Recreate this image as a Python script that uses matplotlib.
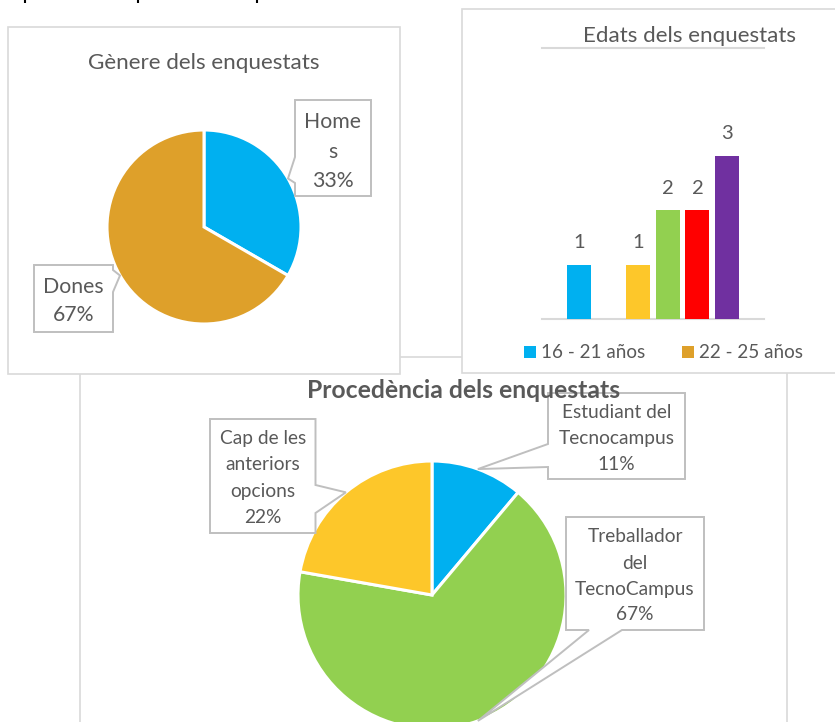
import matplotlib
matplotlib.use("Agg")
import matplotlib.pyplot as plt
from matplotlib.patches import Rectangle, Polygon
import numpy as np

plt.rcParams['font.family'] = ['Lato', 'DejaVu Sans']

# ---------------- data ----------------
gender_labels = ['Homes', 'Dones']
gender_label_lines = [['Home', 's'], ['Dones']]
gender_values = [3, 6]
gender_colors = ['#00B0F0', '#DEA02A']

age_legend = ['16 - 21 años', '22 - 25 años']
age_values = [1, 0, 1, 2, 2, 3]
age_colors = ['#00B0F0', '#DEA02A', '#FDC72A', '#92D050', '#FF0000', '#7030A0']

origin_labels = ['Estudiant del Tecnocampus', 'Treballador del TecnoCampus',
                 'Cap de les anteriors opcions']
origin_label_lines = [['Estudiant del', 'Tecnocampus'],
                      ['Treballador', 'del', 'TecnoCampus'],
                      ['Cap de les', 'anteriors', 'opcions']]
origin_values = [1, 6, 2]
origin_colors = ['#00B0F0', '#92D050', '#FDC72A']

TXT = '#595959'
BORDER = '#D9D9D9'
CALL = '#BFBFBF'

W, H = 835, 722
fig = plt.figure(figsize=(W / 100, H / 100), dpi=100)


def fr(x0, y0, x1, y1):
    return [x0 / W, 1 - y1 / H, (x1 - x0) / W, (y1 - y0) / H]


# background boxes
bg = fig.add_axes([0, 0, 1, 1], zorder=0)
bg.set_xlim(0, W)
bg.set_ylim(H, 0)
bg.axis('off')
bg.add_patch(Rectangle((80, 357), 707, 420, facecolor='white', edgecolor=BORDER, lw=1.2, zorder=1))
bg.add_patch(Rectangle((8, 27), 392, 347, facecolor='white', edgecolor=BORDER, lw=1.2, zorder=2))
bg.add_patch(Rectangle((462, 9), 420, 364, facecolor='white', edgecolor=BORDER, lw=1.2, zorder=2))

# overlay for texts/callouts
ov = fig.add_axes([0, 0, 1, 1], zorder=10)
ov.set_xlim(0, W)
ov.set_ylim(H, 0)
ov.axis('off')
ov.patch.set_alpha(0)

# descenders of a text line cut off by the top edge
for xp in [24.5, 137.5, 256.5]:
    ov.plot([xp, xp], [0, 3], color='black', lw=1.5, solid_capstyle='butt')


def pie_panel(cx, cy, r, values, colors):
    ax = fig.add_axes(fr(cx - r, cy - r, cx + r, cy + r), zorder=2)
    ax.pie(values, colors=colors, startangle=90, counterclock=False,
           wedgeprops=dict(edgecolor='white', linewidth=2.2))
    ax.set_xlim(-1, 1)
    ax.set_ylim(-1, 1)
    ax.set_aspect('equal')
    ax.axis('off')
    tot = float(sum(values))
    cum = np.cumsum(values) - np.array(values) / 2.0
    mids = np.deg2rad(90 - 360 * cum / tot)
    tips = [(cx + r * np.cos(a), cy - r * np.sin(a)) for a in mids]
    pcts = ['%d%%' % round(100 * v / tot) for v in values]
    return ax, tips, pcts


def callout(box, side, base, tip, lines, ycs, fs):
    x0, y0, x1, y1 = box
    pts = [(x0, y0), (x1, y0)]
    if side == 'right':
        pts += [(x1, base[0]), tip, (x1, base[1])]
    pts += [(x1, y1)]
    if side == 'bottom':
        pts += [(base[1], y1), tip, (base[0], y1)]
    pts += [(x0, y1)]
    if side == 'left':
        pts += [(x0, base[1]), tip, (x0, base[0])]
    ov.add_patch(Polygon(pts, closed=True, facecolor='white', edgecolor=CALL, lw=1.4, zorder=3))
    xc = (x0 + x1) / 2
    for t, yc in zip(lines, ycs):
        ov.text(xc, yc + 0.36 * fs * 100 / 72, t, fontsize=fs, color=TXT,
                ha='center', va='baseline', zorder=4)


# ---------------- chart 1: gender pie ----------------
ax1, tips1, pct1 = pie_panel(204, 227, 97, gender_values, gender_colors)
ov.text(204, 63, 'Gènere dels enquestats', fontsize=16.2, color=TXT, ha='center', va='center')
callout((295, 100, 371, 196), 'left', (157, 183), tips1[0],
        gender_label_lines[0] + [pct1[0]], [120, 150, 179], 15.3)
callout((34, 265, 113, 332), 'right', (270, 292), tips1[1],
        gender_label_lines[1] + [pct1[1]], [285, 313], 15.3)

# ---------------- chart 2: age bars ----------------
ax2 = fig.add_axes(fr(542, 47.7, 764, 319), zorder=2)
xs = np.arange(len(age_values))
bars = ax2.bar(xs, age_values, width=0.81, color=age_colors, zorder=2)
ax2.set_xlim(-1.25, 6.25)
ax2.set_ylim(0, 5)
for s in ax2.spines.values():
    s.set_visible(False)
ax2.set_xticks([])
ax2.set_yticks([])
ax2.axhline(0, color=BORDER, lw=1.5, zorder=1, clip_on=False)
ax2.axhline(5, color=BORDER, lw=1.5, zorder=1, clip_on=False)
ax2.bar_label(bars, labels=[str(v) if v else '' for v in age_values],
              padding=10, fontsize=14.5, color=TXT)
ov.text(689.5, 36, 'Edats dels enquestats', fontsize=16.1, color=TXT, ha='center', va='center')
fig.legend([bars[0], bars[1]], age_legend, loc='center left',
           bbox_to_anchor=(524 / W, 1 - 353 / H), ncol=2, frameon=False,
           fontsize=13.6, labelcolor=TXT, handlelength=0.62, handleheight=0.62,
           handletextpad=0.28, columnspacing=1.95, borderaxespad=0, borderpad=0)

# ---------------- chart 3: origin pie ----------------
ax3, tips3, pct3 = pie_panel(432, 595, 134, origin_values, origin_colors)
callout((548, 393, 685, 479), 'left', (444, 467), tips3[0],
        origin_label_lines[0] + [pct3[0]], [411, 437, 463], 13.8)
callout((566, 517, 704, 630), 'bottom', (589, 622), tips3[1],
        origin_label_lines[1] + [pct3[1]], [535, 562, 588, 613], 13.8)
callout((210, 419, 315.5, 533), 'right', (485, 513), tips3[2],
        origin_label_lines[2] + [pct3[2]], [437, 463, 490, 516], 13.8)
ov.text(464, 390, 'Procedència dels enquestats', fontsize=17.8, fontweight='bold',
        color=TXT, ha='center', va='center', zorder=6)

fig.savefig('out.png', dpi=100)
